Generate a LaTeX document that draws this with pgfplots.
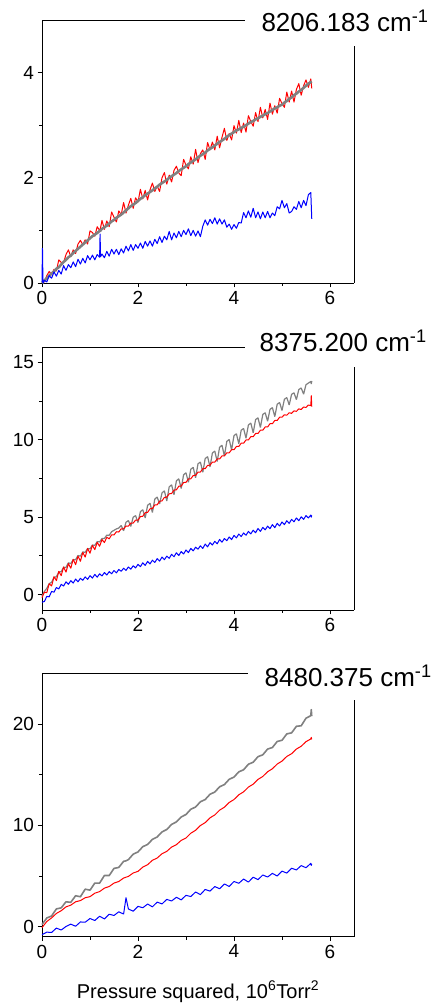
\documentclass[border=0pt]{standalone}
\usepackage{pgfplots}
\pgfplotsset{compat=1.18}
\usepackage{pgfplotstable}
\usepackage{fontspec}
\setmainfont{Liberation Sans}
\definecolor{dgrey}{RGB}{128,128,128}

\pgfplotstableread{
x r g b
0.00 0.02 0.00 0.02
0.01 0.02 0.01 0.66
0.02 0.03 0.02 0.00
0.05 0.02 0.05 0.05
0.10 0.14 0.09 0.02
0.15 0.22 0.14 0.14
0.20 0.16 0.18 0.09
0.25 0.26 0.22 0.21
0.30 0.23 0.27 0.13
0.35 0.44 0.30 0.24
0.40 0.39 0.35 0.17
0.45 0.39 0.40 0.33
0.50 0.54 0.44 0.24
0.55 0.63 0.49 0.35
0.60 0.50 0.52 0.29
0.65 0.63 0.57 0.40
0.70 0.56 0.61 0.31
0.75 0.74 0.65 0.45
0.80 0.81 0.69 0.36
0.85 0.73 0.73 0.47
0.90 0.82 0.77 0.38
0.95 0.74 0.81 0.52
1.00 0.99 0.85 0.44
1.05 0.96 0.89 0.53
1.10 0.89 0.92 0.44
1.15 1.07 0.95 0.54
1.20 1.00 0.99 0.49
1.21 1.02 0.99 0.93
1.22 1.05 1.00 0.50
1.25 1.19 1.03 0.55
1.30 1.02 1.06 0.48
1.35 1.18 1.09 0.60
1.40 1.07 1.13 0.51
1.45 1.35 1.17 0.64
1.50 1.25 1.20 0.55
1.55 1.16 1.24 0.64
1.60 1.37 1.27 0.54
1.65 1.30 1.30 0.65
1.70 1.53 1.34 0.57
1.75 1.33 1.38 0.70
1.80 1.48 1.42 0.61
1.85 1.61 1.46 0.73
1.90 1.42 1.49 0.62
1.95 1.62 1.52 0.73
2.00 1.54 1.56 0.66
2.05 1.78 1.60 0.76
2.10 1.60 1.63 0.66
2.15 1.76 1.67 0.79
2.20 1.58 1.70 0.70
2.25 1.77 1.73 0.80
2.30 1.90 1.76 0.70
2.35 1.74 1.80 0.83
2.40 1.84 1.83 0.75
2.45 1.74 1.87 0.88
2.50 2.00 1.90 0.77
2.55 2.10 1.93 0.89
2.60 1.88 1.96 0.82
2.65 2.05 2.00 0.98
2.70 1.92 2.03 0.82
2.75 2.14 2.06 0.95
2.80 2.22 2.09 0.86
2.85 2.09 2.13 0.98
2.90 2.04 2.16 0.88
2.95 2.35 2.19 1.00
3.00 2.24 2.22 0.92
3.05 2.17 2.26 1.03
3.10 2.40 2.29 0.90
3.15 2.26 2.32 1.00
3.20 2.54 2.35 0.89
3.25 2.29 2.39 0.99
3.30 2.46 2.42 0.88
3.35 2.53 2.45 1.08
3.40 2.35 2.48 1.20
3.45 2.67 2.52 1.10
3.50 2.53 2.55 1.21
3.55 2.68 2.58 1.13
3.60 2.53 2.61 1.24
3.65 2.79 2.65 1.12
3.70 2.57 2.68 1.22
3.75 2.77 2.71 1.12
3.80 2.94 2.74 1.20
3.85 2.71 2.78 1.06
3.90 2.84 2.81 1.12
3.95 2.72 2.84 1.02
4.00 2.99 2.87 1.11
4.05 2.85 2.90 1.04
4.10 3.09 2.92 1.15
4.15 2.86 2.95 1.14
4.20 3.04 2.97 1.34
4.25 2.87 3.00 1.24
4.30 3.18 3.03 1.37
4.35 3.07 3.06 1.25
4.40 2.98 3.08 1.42
4.45 3.24 3.11 1.24
4.50 3.07 3.13 1.35
4.55 3.34 3.16 1.22
4.60 3.14 3.18 1.35
4.65 3.30 3.21 1.24
4.70 3.11 3.23 1.36
4.75 3.42 3.26 1.24
4.80 3.21 3.29 1.33
4.85 3.37 3.32 1.28
4.90 3.23 3.34 1.45
4.95 3.51 3.37 1.41
5.00 3.41 3.39 1.57
5.05 3.34 3.43 1.43
5.10 3.63 3.46 1.51
5.15 3.44 3.50 1.33
5.20 3.65 3.53 1.36
5.25 3.44 3.57 1.45
5.30 3.68 3.60 1.40
5.35 3.79 3.64 1.55
5.40 3.57 3.67 1.43
5.45 3.75 3.71 1.57
5.50 3.86 3.75 1.47
5.55 3.72 3.79 1.68
5.60 3.88 3.82 1.72
5.62 3.70 3.83 1.22
}\dataA

\pgfplotstableread{
x r g b
0.00 -0.20 -0.10 -0.50
0.05 0.15 0.20 -0.45
0.10 0.12 0.40 -0.12
0.15 0.70 0.70 -0.15
0.20 0.55 0.80 0.20
0.25 1.15 1.10 0.15
0.30 0.90 1.15 0.45
0.35 1.50 1.45 0.36
0.40 1.22 1.48 0.66
0.45 1.78 1.76 0.55
0.50 1.45 1.75 0.82
0.55 2.00 2.05 0.66
0.60 1.70 2.00 0.90
0.65 2.28 2.25 0.74
0.70 1.93 2.25 1.00
0.75 2.48 2.52 0.82
0.80 2.15 2.48 1.05
0.85 2.72 2.75 0.92
0.90 2.42 2.73 1.14
0.95 2.98 2.97 0.98
1.00 2.67 2.95 1.22
1.05 3.18 3.20 1.06
1.10 2.90 3.18 1.30
1.15 3.37 3.42 1.12
1.20 3.12 3.40 1.34
1.25 3.55 3.62 1.20
1.30 3.36 3.62 1.42
1.35 3.70 3.84 1.26
1.40 3.60 3.83 1.48
1.45 3.86 4.06 1.34
1.50 3.85 4.15 1.55
1.55 4.06 4.24 1.40
1.60 4.04 4.30 1.62
1.65 4.25 4.46 1.50
1.70 4.24 4.12 1.70
1.75 4.43 4.67 1.56
1.80 4.42 4.78 1.78
1.85 4.62 4.40 1.64
1.90 4.62 5.00 1.86
1.95 4.81 5.10 1.72
2.00 4.80 4.65 1.95
2.05 5.04 5.36 1.80
2.10 5.06 5.48 2.05
2.15 5.29 4.95 1.88
2.20 5.31 5.76 2.14
2.25 5.54 5.90 1.98
2.30 5.56 5.30 2.22
2.35 5.79 6.17 2.07
2.40 5.80 6.30 2.32
2.45 6.03 5.85 2.16
2.50 6.05 6.57 2.42
2.55 6.28 6.70 2.25
2.60 6.29 6.05 2.48
2.65 6.51 6.96 2.34
2.70 6.53 7.09 2.60
2.75 6.75 6.45 2.44
2.80 6.77 7.35 2.70
2.85 7.00 7.48 2.52
2.90 7.01 6.85 2.78
2.95 7.24 7.74 2.62
3.00 7.25 7.87 2.88
3.05 7.47 7.25 2.71
3.10 7.48 8.10 2.98
3.15 7.69 8.22 2.82
3.20 7.70 7.55 3.06
3.25 7.91 8.45 2.93
3.30 7.92 8.56 3.15
3.35 8.13 7.90 2.98
3.40 8.13 8.79 3.26
3.45 8.35 8.91 3.08
3.50 8.36 8.25 3.35
3.55 8.56 9.15 3.20
3.60 8.56 9.27 3.44
3.65 8.76 8.60 3.28
3.70 8.76 9.52 3.56
3.75 8.96 9.65 3.38
3.80 8.96 8.95 3.62
3.85 9.16 9.90 3.48
3.90 9.16 10.02 3.72
3.95 9.36 9.35 3.55
4.00 9.36 10.27 3.82
4.05 9.57 10.39 3.66
4.10 9.57 9.75 3.91
4.15 9.78 10.62 3.75
4.20 9.78 10.73 3.98
4.25 9.99 10.10 3.83
4.30 9.99 10.96 4.08
4.35 10.20 11.08 3.92
4.40 10.20 10.45 4.16
4.45 10.41 11.31 3.99
4.50 10.41 11.42 4.27
4.55 10.62 10.80 4.08
4.60 10.62 11.64 4.34
4.65 10.83 11.75 4.18
4.70 10.83 11.20 4.42
4.75 11.04 11.97 4.26
4.80 11.04 12.08 4.52
4.85 11.25 11.50 4.32
4.90 11.25 12.30 4.60
4.95 11.46 12.41 4.43
5.00 11.46 11.90 4.69
5.05 11.62 12.62 4.52
5.10 11.59 12.73 4.77
5.15 11.75 12.25 4.60
5.20 11.71 12.94 4.86
5.25 11.87 13.04 4.70
5.30 11.84 12.60 4.95
5.35 12.00 13.25 4.77
5.40 11.96 13.35 5.02
5.45 12.12 12.95 4.86
5.50 12.09 13.56 5.10
5.55 12.25 13.67 4.95
5.60 12.21 13.77 5.14
5.61 12.85 13.60 5.00
5.62 12.15 13.80 5.12
}\dataB

\pgfplotstableread{
x r g b
0.0 -0.10 0.20 -0.80
0.1 0.50 0.85 -0.55
0.2 0.86 1.05 -0.58
0.3 1.30 1.75 -0.15
0.4 1.57 1.85 -0.34
0.5 1.95 2.45 0.01
0.6 2.12 2.40 0.24
0.7 2.45 3.05 0.03
0.8 2.57 2.95 0.46
0.9 2.85 3.70 0.43
1.0 2.96 3.60 0.80
1.1 3.30 4.30 0.60
1.2 3.46 4.30 1.02
1.3 3.80 5.05 0.76
1.4 3.96 5.05 1.22
1.5 4.30 5.75 1.10
1.6 4.46 5.85 1.46
1.7 4.80 6.45 1.24
1.75 4.88 6.50 2.85
1.8 4.96 6.62 1.74
1.9 5.30 7.16 1.52
2.0 5.46 7.38 2.00
2.1 5.88 7.90 1.86
2.2 6.12 8.12 2.23
2.3 6.55 8.62 1.95
2.4 6.78 8.86 2.42
2.5 7.20 9.36 2.24
2.6 7.44 9.60 2.69
2.7 7.86 10.10 2.53
2.8 8.10 10.35 2.90
2.9 8.52 10.84 2.64
3.0 8.76 11.08 3.09
3.1 9.23 11.60 2.97
3.2 9.52 11.82 3.42
3.3 9.99 12.34 3.16
3.4 10.28 12.56 3.67
3.5 10.75 13.08 3.51
3.6 11.04 13.30 3.96
3.7 11.51 13.82 3.74
3.8 11.80 14.04 4.21
3.9 12.27 14.56 3.97
4.0 12.56 14.78 4.46
4.1 13.03 15.30 4.28
4.2 13.32 15.50 4.70
4.3 13.79 16.05 4.40
4.4 14.08 16.25 4.88
4.5 14.55 16.80 4.64
4.6 14.84 16.98 5.10
4.7 15.31 17.55 4.90
4.8 15.60 17.70 5.26
4.9 16.07 18.30 5.00
5.0 16.36 18.42 5.48
5.1 16.82 19.05 5.29
5.2 17.09 19.15 5.77
5.3 17.55 19.80 5.60
5.4 17.83 19.85 6.03
5.5 18.28 20.60 5.82
5.6 18.55 20.85 6.25
5.61 18.70 21.45 6.05
5.62 18.50 20.80 6.20
}\dataC

\newcommand\tickfont{\fontsize{19}{19}\selectfont}
\newcommand\titlefont{\fontsize{26}{26}\selectfont}

\pgfplotsset{
  panel/.style={
    width=312pt, height=263pt, scale only axis, anchor=south west,
    xmin=0, xmax=6.5,
    xtick={0,2,4,6}, minor xtick={1,3,5},
    axis x line*=bottom, axis y line*=left,
    tick align=outside,
    major tick length=4.5pt, minor tick length=2.8pt,
    every tick/.style={black, line width=0.9pt},
    axis line style={black, line width=0.9pt},
    tick label style={font=\tickfont},
    /pgf/number format/assume math mode=true,
    clip=false,
  },
  rl/.style={red, line width=1.0pt, line join=round},
  gl/.style={dgrey, line width=1.6pt, line join=round},
  bl/.style={blue, line width=1.0pt, line join=round},
}

\begin{document}
\begin{tikzpicture}
\path[use as bounding box] (0,0) rectangle (432pt,1003pt);

\begin{axis}[panel, at={(42pt,720pt)}, ymin=0, ymax=5, ytick={0,2,4}, minor ytick={1,3}]
\addplot[rl] table[x=x,y=r]{\dataA};
\addplot[gl, line width=2.6pt] table[x=x,y=g]{\dataA};
\addplot[bl] table[x=x,y=b]{\dataA};
\draw[line width=0.9pt] (rel axis cs:0,1) -- (rel axis cs:0.65,1);
\draw[line width=0.9pt] (rel axis cs:1,0) -- (rel axis cs:1,0.90);
\node[anchor=base west, inner sep=0pt, yshift=-11.7pt, font=\titlefont] at (rel axis cs:0.703,1) {8206.183 cm\textsuperscript{-1}};
\end{axis}

\begin{axis}[panel, at={(42pt,393pt)}, ymin=-1, ymax=16, ytick={0,5,10,15}, minor ytick={2.5,7.5,12.5}]
\addplot[gl, line width=1.2pt, line join=bevel] table[x=x,y=g]{\dataB};
\addplot[rl] table[x=x,y=r]{\dataB};
\addplot[bl] table[x=x,y=b]{\dataB};
\draw[line width=0.9pt] (rel axis cs:0,1) -- (rel axis cs:0.65,1);
\draw[line width=0.9pt] (rel axis cs:1,0) -- (rel axis cs:1,0.924);
\node[anchor=base west, inner sep=0pt, yshift=-4.3pt, font=\titlefont] at (rel axis cs:0.697,1) {8375.200 cm\textsuperscript{-1}};
\end{axis}

\begin{axis}[panel, at={(42pt,66.3pt)}, ymin=-1, ymax=25, ytick={0,10,20}, minor ytick={5,15}]
\addplot[gl] table[x=x,y=g]{\dataC};
\addplot[rl] table[x=x,y=r]{\dataC};
\addplot[bl] table[x=x,y=b]{\dataC};
\draw[line width=0.9pt] (rel axis cs:0,1) -- (rel axis cs:0.66,1);
\draw[line width=0.9pt] (rel axis cs:1,0) -- (rel axis cs:1,0.899);
\node[anchor=base west, inner sep=0pt, yshift=-12.7pt, font=\titlefont] at (rel axis cs:0.713,1) {8480.375 cm\textsuperscript{-1}};
\node[anchor=base, inner sep=0pt, yshift=-61.5pt, font=\fontsize{20}{20}\selectfont] at (rel axis cs:0.5,0) {Pressure squared, 10\textsuperscript{6}Torr\textsuperscript{2}};
\end{axis}
\end{tikzpicture}
\end{document}
